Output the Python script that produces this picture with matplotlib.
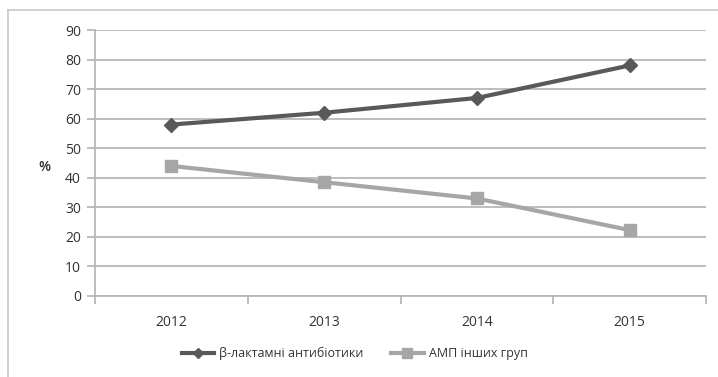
import matplotlib.pyplot as plt
from matplotlib.lines import Line2D
from matplotlib.ticker import FixedLocator, NullFormatter

plt.rcParams['font.family'] = ['Open Sans', 'DejaVu Sans']

# Дані
roky = ['2012', '2013', '2014', '2015']
beta_laktamy = [58, 62, 67, 78]
amp_inshi = [44, 38.5, 33, 22.3]

sirij_tekst = '#333333'
sitka = '#b7b7b7'

fig = plt.figure(figsize=(7.18, 3.77), dpi=100)
ax = fig.add_axes([0.1323, 0.2149, 0.851, 0.7055])

x = list(range(1, len(roky) + 1))
ax.plot(x, beta_laktamy, color='#595959', linewidth=3, marker='D', markersize=7,
        label='β-лактамні антибіотики', zorder=3)
ax.plot(x, amp_inshi, color='#a6a6a6', linewidth=3, marker='s', markersize=9,
        label='АМП інших груп', zorder=3)

ax.set_xlim(0.5, len(roky) + 0.5)
ax.set_ylim(0, 90)
ax.set_yticks(range(0, 91, 10))
ax.yaxis.grid(True, color=sitka, linewidth=1.3)
ax.set_axisbelow(True)

# підписи років по центру, засічки між категоріями
ax.set_xticks(x)
ax.set_xticklabels(roky)
ax.xaxis.set_minor_locator(FixedLocator([i + 0.5 for i in range(len(roky) + 1)]))
ax.xaxis.set_minor_formatter(NullFormatter())
ax.tick_params(axis='x', which='major', length=0, pad=14, labelsize=10, labelcolor=sirij_tekst)
ax.tick_params(axis='x', which='minor', length=6, width=1.3, color=sitka)
ax.tick_params(axis='y', length=6, width=1.3, color=sitka, labelsize=10,
               labelcolor=sirij_tekst, pad=4)

for s in ['top', 'right']:
    ax.spines[s].set_visible(False)
for s in ['left', 'bottom']:
    ax.spines[s].set_color(sitka)
    ax.spines[s].set_linewidth(1.3)

ax.set_ylabel('%', rotation=0, fontsize=10, color=sirij_tekst,
              va='center', ha='center', fontweight='semibold')
ax.yaxis.set_label_coords(-0.082, 0.485)

ax.legend(loc='upper center', bbox_to_anchor=(0.425, -0.15), ncol=2, frameon=False,
          fontsize=9, labelcolor=sirij_tekst, handlelength=2.6, columnspacing=2.2,
          handletextpad=0.4, markerscale=0.75)

# рамка області діаграми
fig.add_artist(Line2D([0.011, 1.0], [0.9735, 0.9735], color='#c8c8c8', linewidth=1.2))
fig.add_artist(Line2D([0.011, 0.011], [0.0, 0.9735], color='#c8c8c8', linewidth=1.2))

fig.savefig('out.png', dpi=100)
